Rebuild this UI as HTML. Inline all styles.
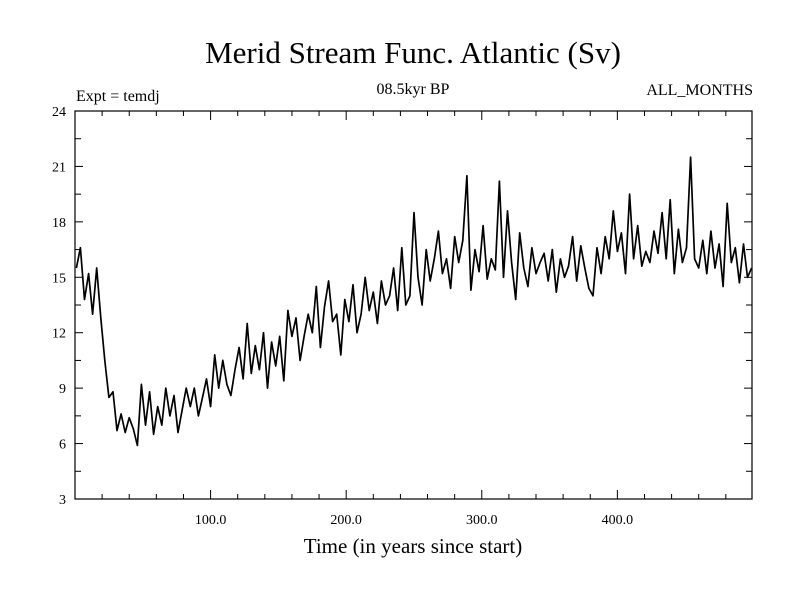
<!DOCTYPE html>
<html><head><meta charset="utf-8"><style>
body{margin:0;background:#fff}
svg text{font-family:"Liberation Serif",serif;fill:#000}
</style></head><body>
<svg width="800" height="600" viewBox="0 0 800 600" id="c">
<rect width="800" height="600" fill="#fff"/>
<text x="413" y="63" font-size="31" text-anchor="middle">Merid Stream Func. Atlantic (Sv)</text>
<text x="76" y="101" font-size="16">Expt = temdj</text>
<text x="413" y="94" font-size="16" text-anchor="middle">08.5kyr BP</text>
<text x="753" y="95" font-size="16" text-anchor="end">ALL_MONTHS</text>
<text x="413" y="553" font-size="21" text-anchor="middle">Time (in years since start)</text>
<g id="axes"></g>
<path id="line" fill="none" stroke="#000" stroke-width="1.7" stroke-linejoin="round"/>
<rect x="75" y="111" width="677" height="388" fill="none" stroke="#000" stroke-width="1.2"/>
</svg>
<script>
const startYear = 1;
const stepYears = 3;
const values = [15.5,16.6,13.8,15.2,13.0,15.5,12.8,10.5,8.5,
8.8,6.7,7.6,6.6,7.4,6.8,5.9,9.2,7.0,8.8,6.5,8.0,7.0,9.0,7.5,8.6,6.6,7.8,
9.0,8.0,9.0,7.5,8.5,9.5,8.0,
10.8,9.0,10.5,9.2,8.6,10.0,11.2,9.5,12.5,9.8,
11.3,10.0,12.0,9.0,11.5,10.2,11.8,9.4,13.2,11.8,
12.8,10.5,11.8,13.0,12.0,14.5,11.2,13.4,14.8,12.6,
13.0,10.8,13.8,12.6,14.6,12.0,13.0,15.0,13.2,14.2,
12.5,14.8,13.5,14.0,15.5,13.2,16.6,13.5,14.0,18.5,
15.0,13.5,16.5,14.8,16.0,17.5,15.2,16.0,14.4,17.2,
15.8,17.0,20.5,14.3,16.5,15.3,17.8,14.9,16.0,15.4,
20.2,15.0,18.6,15.8,13.8,17.4,15.5,14.5,16.6,15.2,
15.8,16.3,14.8,16.5,14.2,16.0,15.0,15.6,17.2,14.8,
16.7,15.5,14.4,14.0,16.6,15.2,17.2,16.0,18.6,16.4,
17.4,15.2,19.5,16.0,17.8,15.6,16.4,15.8,17.5,16.3,
18.5,16.0,19.2,15.2,17.6,15.8,16.6,21.5,16.0,15.5,
17.0,15.2,17.5,15.5,16.8,14.5,19.0,15.8,16.6,14.7,
16.8,15.0,15.5];
const yTickLabels = [3,6,9,12,15,18,21,24];
const xTickLabels = [100,200,300,400];
const X0=75,X1=752,Y0=499,Y1=111,XMIN=0,XMAX=499.3,YMIN=3,YMAX=24;
const xs=v=>X0+(v-XMIN)/(XMAX-XMIN)*(X1-X0);
const ys=v=>Y0-(v-YMIN)/(YMAX-YMIN)*(Y0-Y1);
const NS="http://www.w3.org/2000/svg";
const ax=document.getElementById('axes');
function ln(x1,y1,x2,y2,n){const l=document.createElementNS(NS,'line');l.setAttribute('x1',x1);l.setAttribute('y1',y1);l.setAttribute('x2',x2);l.setAttribute('y2',y2);l.setAttribute('stroke','#000');l.setAttribute('stroke-width','1');


ax.appendChild(l);}
function tx(x,y,s,a,n){const t=document.createElementNS(NS,'text');t.setAttribute('x',x);t.setAttribute('y',y);t.setAttribute('font-size','14');t.setAttribute('text-anchor',a);t.textContent=s;


ax.appendChild(t);}
for(let v=YMIN;v<=YMAX+0.01;v+=1.5){const y=ys(v),maj=Math.abs(v-Math.round(v/3)*3)<0.01,L=maj?8:6;
ln(X0,y,X0+L,y,'y-tick');ln(X1,y,X1-L,y,'y-tick-right');}
yTickLabels.forEach(v=>tx(X0-9,ys(v)+5,String(v),'end','y-tick-label'));
for(let v=20;v<XMAX;v+=20){const x=xs(v),L=(v%100===0)?9:5;ln(x,Y0,x,Y0-L,'x-tick');ln(x,Y1,x,Y1+L,'x-tick-top');}
xTickLabels.forEach(v=>tx(xs(v),Y0+25,v.toFixed(1),'middle','x-tick-label'));
let d='';values.forEach((v,i)=>{const yr=startYear+i*stepYears;d+=(i?'L':'M')+xs(yr).toFixed(1)+' '+ys(v).toFixed(1);});
document.getElementById('line').setAttribute('d',d);
</script>
</body></html>
